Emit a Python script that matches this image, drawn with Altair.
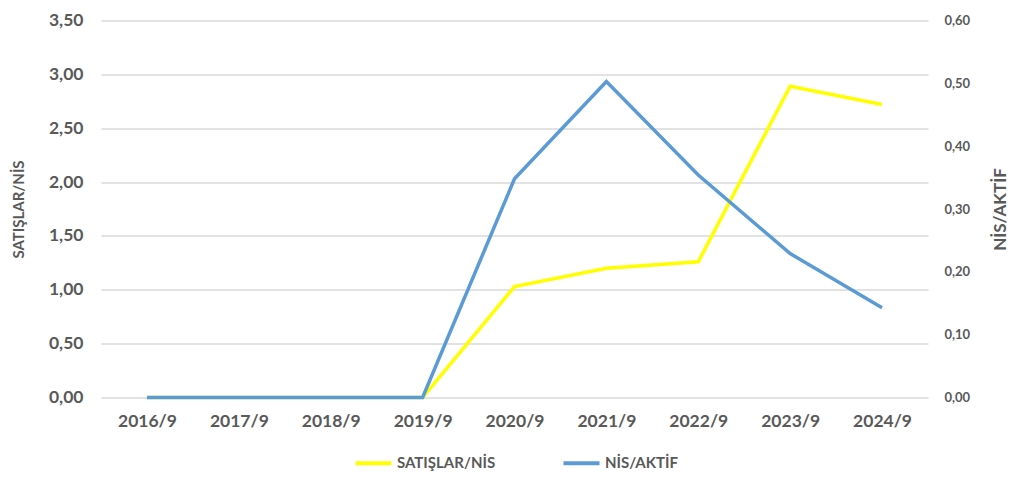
import altair as alt
import pandas as pd

years = ["2016/9", "2017/9", "2018/9", "2019/9", "2020/9", "2021/9", "2022/9", "2023/9", "2024/9"]
satislar_nis = [0.0, 0.0, 0.0, 0.0, 1.03, 1.20, 1.26, 2.89, 2.72]
nis_aktif = [0.0, 0.0, 0.0, 0.0, 0.348, 0.503, 0.354, 0.229, 0.143]
series_names = ["SATIŞLAR/NİS", "NİS/AKTİF"]
series_colors = ["#FFFF00", "#5B9BD5"]

df1 = pd.DataFrame({"year": years, "value": satislar_nis, "series": series_names[0]})
df2 = pd.DataFrame({"year": years, "value": nis_aktif, "series": series_names[1]})

FONT = "Lato"
GRAY = "#595959"
lblexpr = "replace(format(datum.value, '.2f'), '.', ',')"

color = alt.Color(
    "series:N",
    scale=alt.Scale(domain=series_names, range=series_colors),
    legend=alt.Legend(
        title=None, orient="none", direction="horizontal",
        legendX=252, legendY=422, symbolType="stroke", symbolStrokeWidth=4,
        symbolSize=1300, labelFontSize=15, labelFont=FONT, labelFontWeight="bold",
        labelColor=GRAY, columnPadding=59, labelOffset=3,
    ),
)

x = alt.X(
    "year:N", sort=years, title=None,
    scale=alt.Scale(type="point", padding=0.5),
    axis=alt.Axis(labelAngle=0, labelFontSize=17.5, labelFont=FONT, labelFontWeight="bold",
                  labelColor=GRAY, ticks=False, domain=False, labelPadding=15, grid=False),
)

line1 = alt.Chart(df1).mark_line(strokeWidth=3.5).encode(
    x=x,
    y=alt.Y("value:Q", title="SATIŞLAR/NİS",
            scale=alt.Scale(domain=[0, 3.5], nice=False),
            axis=alt.Axis(values=[0, 0.5, 1, 1.5, 2, 2.5, 3, 3.5], labelExpr=lblexpr,
                          orient="left", domain=False, ticks=False, grid=True,
                          gridColor="#d9d9d9", gridWidth=1.5,
                          labelFontSize=17.5, labelFont=FONT, labelFontWeight="bold",
                          labelColor=GRAY, labelPadding=18,
                          titleFontSize=15, titleFont=FONT, titleFontWeight="bold",
                          titleColor=GRAY, titlePadding=22)),
    color=color,
)

line2 = alt.Chart(df2).mark_line(strokeWidth=3.5).encode(
    x=x,
    y=alt.Y("value:Q", title="NİS/AKTİF",
            scale=alt.Scale(domain=[0, 0.6], nice=False),
            axis=alt.Axis(values=[0, 0.1, 0.2, 0.3, 0.4, 0.5, 0.6], labelExpr=lblexpr,
                          orient="right", domain=False, ticks=False, grid=False,
                          labelFontSize=13, labelFont=FONT, labelFontWeight="bold",
                          labelColor=GRAY, labelPadding=16,
                          titleFontSize=17, titleFont=FONT, titleFontWeight="bold",
                          titleColor=GRAY, titlePadding=40, titleAngle=270)),
    color=color,
)

chart = alt.layer(line1, line2).resolve_scale(y="independent").properties(
    width=827, height=377,
    autosize=alt.AutoSizeParams(type="none"),
    padding={"left": 93, "top": 12.5, "right": 88, "bottom": 82},
    background="white",
).configure_view(stroke=None)

chart.save("out.html", embed_options={"renderer": "svg", "actions": False})
